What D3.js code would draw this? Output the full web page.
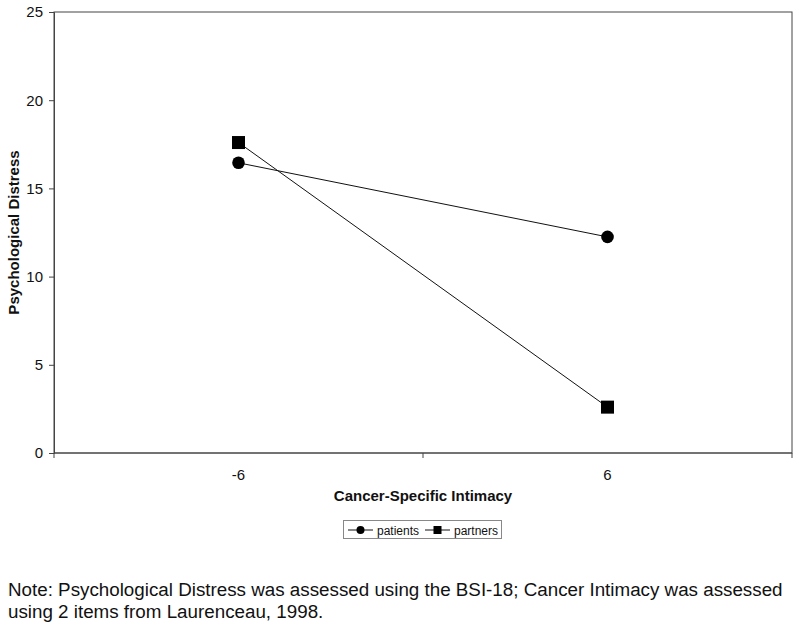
<!DOCTYPE html>
<html>
<head>
<meta charset="utf-8">
<script src="https://cdn.jsdelivr.net/npm/d3@7"></script>
<style>
  body { margin: 0; background: #fff; }
  svg { font-family: 'Liberation Sans', Arial, sans-serif; }
</style>
</head>
<body>
<svg></svg>
<script>
let width = 800;
let height = 628;

// data
let categories = ['-6', '6'];
let patients = [16.45, 12.25];
let partners = [17.6, 2.6];
let yTicks = [0, 5, 10, 15, 20, 25];

let svg = d3.select('svg')
    .attr('width', width)
    .attr('height', height);

let plotLeft = 54, plotRight = 792, plotTop = 12, plotBottom = 453;

let x = d3.scaleBand()
    .domain(categories)
    .range([plotLeft, plotRight]);

let y = d3.scaleLinear()
    .domain([0, 25])
    .range([plotBottom, plotTop]);

// plot frame
svg.append('rect')
    .attr('x', plotLeft)
    .attr('y', plotTop)
    .attr('width', plotRight - plotLeft)
    .attr('height', plotBottom - plotTop)
    .attr('fill', 'none')
    .attr('stroke', '#444')
    .attr('stroke-width', 1);

// y axis
let yAxis = svg.append('g')
    .attr('transform', 'translate(' + plotLeft + ',0)')
    .call(d3.axisLeft(y).tickValues(yTicks).tickSize(5).tickPadding(6));
yAxis.select('.domain').attr('stroke', '#444');
yAxis.selectAll('line').attr('stroke', '#444');
yAxis.selectAll('text')
    .attr('font-size', 15)
    .attr('font-family', "'Liberation Sans', Arial, sans-serif")
    .attr('fill', '#111');

// x axis: ticks sit at category boundaries, labels at centers
let xAxis = svg.append('g')
    .attr('transform', 'translate(0,' + plotBottom + ')');
xAxis.append('line')
    .attr('x1', plotLeft).attr('x2', plotRight)
    .attr('stroke', '#444');
let bounds = [plotLeft].concat(categories.map(c => x(c) + x.bandwidth()));
xAxis.selectAll('.tick')
    .data(bounds)
    .enter()
    .append('line')
    .attr('x1', d => d).attr('x2', d => d)
    .attr('y1', 0).attr('y2', 5)
    .attr('stroke', '#444');
xAxis.selectAll('.lbl')
    .data(categories)
    .enter()
    .append('text')
    .attr('x', d => x(d) + x.bandwidth() / 2)
    .attr('y', 27)
    .attr('text-anchor', 'middle')
    .attr('font-size', 15)
    .attr('fill', '#111')
    .text(d => d);

// axis titles
svg.append('text')
    .attr('x', (plotLeft + plotRight) / 2)
    .attr('y', 501)
    .attr('text-anchor', 'middle')
    .attr('font-size', 15)
    .attr('font-weight', 'bold')
    .attr('fill', '#111')
    .text('Cancer-Specific Intimacy');

svg.append('text')
    .attr('transform', 'translate(19,' + ((plotTop + plotBottom) / 2) + ') rotate(-90)')
    .attr('text-anchor', 'middle')
    .attr('font-size', 15)
    .attr('font-weight', 'bold')
    .attr('fill', '#111')
    .text('Psychological Distress');

let cx = d => x(d) + x.bandwidth() / 2;

let line = d3.line()
    .x(d => cx(d[0]))
    .y(d => y(d[1]));

let series = [
    { name: 'patients', values: patients, shape: 'circle' },
    { name: 'partners', values: partners, shape: 'square' }
];

series.forEach(function (s) {
    let pts = categories.map((c, i) => [c, s.values[i]]);
    svg.append('path')
        .attr('d', line(pts))
        .attr('fill', 'none')
        .attr('stroke', '#111')
        .attr('stroke-width', 1);
    if (s.shape == 'circle') {
        svg.selectAll('.c-' + s.name)
            .data(pts)
            .enter()
            .append('circle')
            .attr('cx', d => cx(d[0]))
            .attr('cy', d => y(d[1]))
            .attr('r', 6.3)
            .attr('fill', '#000');
    } else {
        svg.selectAll('.s-' + s.name)
            .data(pts)
            .enter()
            .append('rect')
            .attr('x', d => cx(d[0]) - 6.5)
            .attr('y', d => y(d[1]) - 6.5)
            .attr('width', 13)
            .attr('height', 13)
            .attr('fill', '#000');
    }
});

// legend
let legend = svg.append('g');
legend.append('rect')
    .attr('x', 343.5)
    .attr('y', 520.5)
    .attr('width', 158)
    .attr('height', 18)
    .attr('fill', 'none')
    .attr('stroke', '#888')
    .attr('stroke-width', 1);

let legendX = [348, 425];
series.forEach(function (s, i) {
    let lx = legendX[i];
    legend.append('line')
        .attr('x1', lx).attr('x2', lx + 25)
        .attr('y1', 530).attr('y2', 530)
        .attr('stroke', '#111');
    if (s.shape == 'circle') {
        legend.append('circle')
            .attr('cx', lx + 12.5).attr('cy', 530).attr('r', 4)
            .attr('fill', '#000');
    } else {
        legend.append('rect')
            .attr('x', lx + 8.5).attr('y', 526)
            .attr('width', 8).attr('height', 8)
            .attr('fill', '#000');
    }
    legend.append('text')
        .attr('x', lx + 29)
        .attr('y', 534.5)
        .attr('font-size', 12)
        .attr('fill', '#111')
        .text(s.name);
});

// note
let note = svg.append('text')
    .attr('font-size', 18.8)
    .attr('fill', '#111');
note.append('tspan')
    .attr('x', 8).attr('y', 596)
    .text('Note: Psychological Distress was assessed using the BSI-18; Cancer Intimacy was assessed');
note.append('tspan')
    .attr('x', 8).attr('y', 618)
    .text('using 2 items from Laurenceau, 1998.');
</script>
</body>
</html>
